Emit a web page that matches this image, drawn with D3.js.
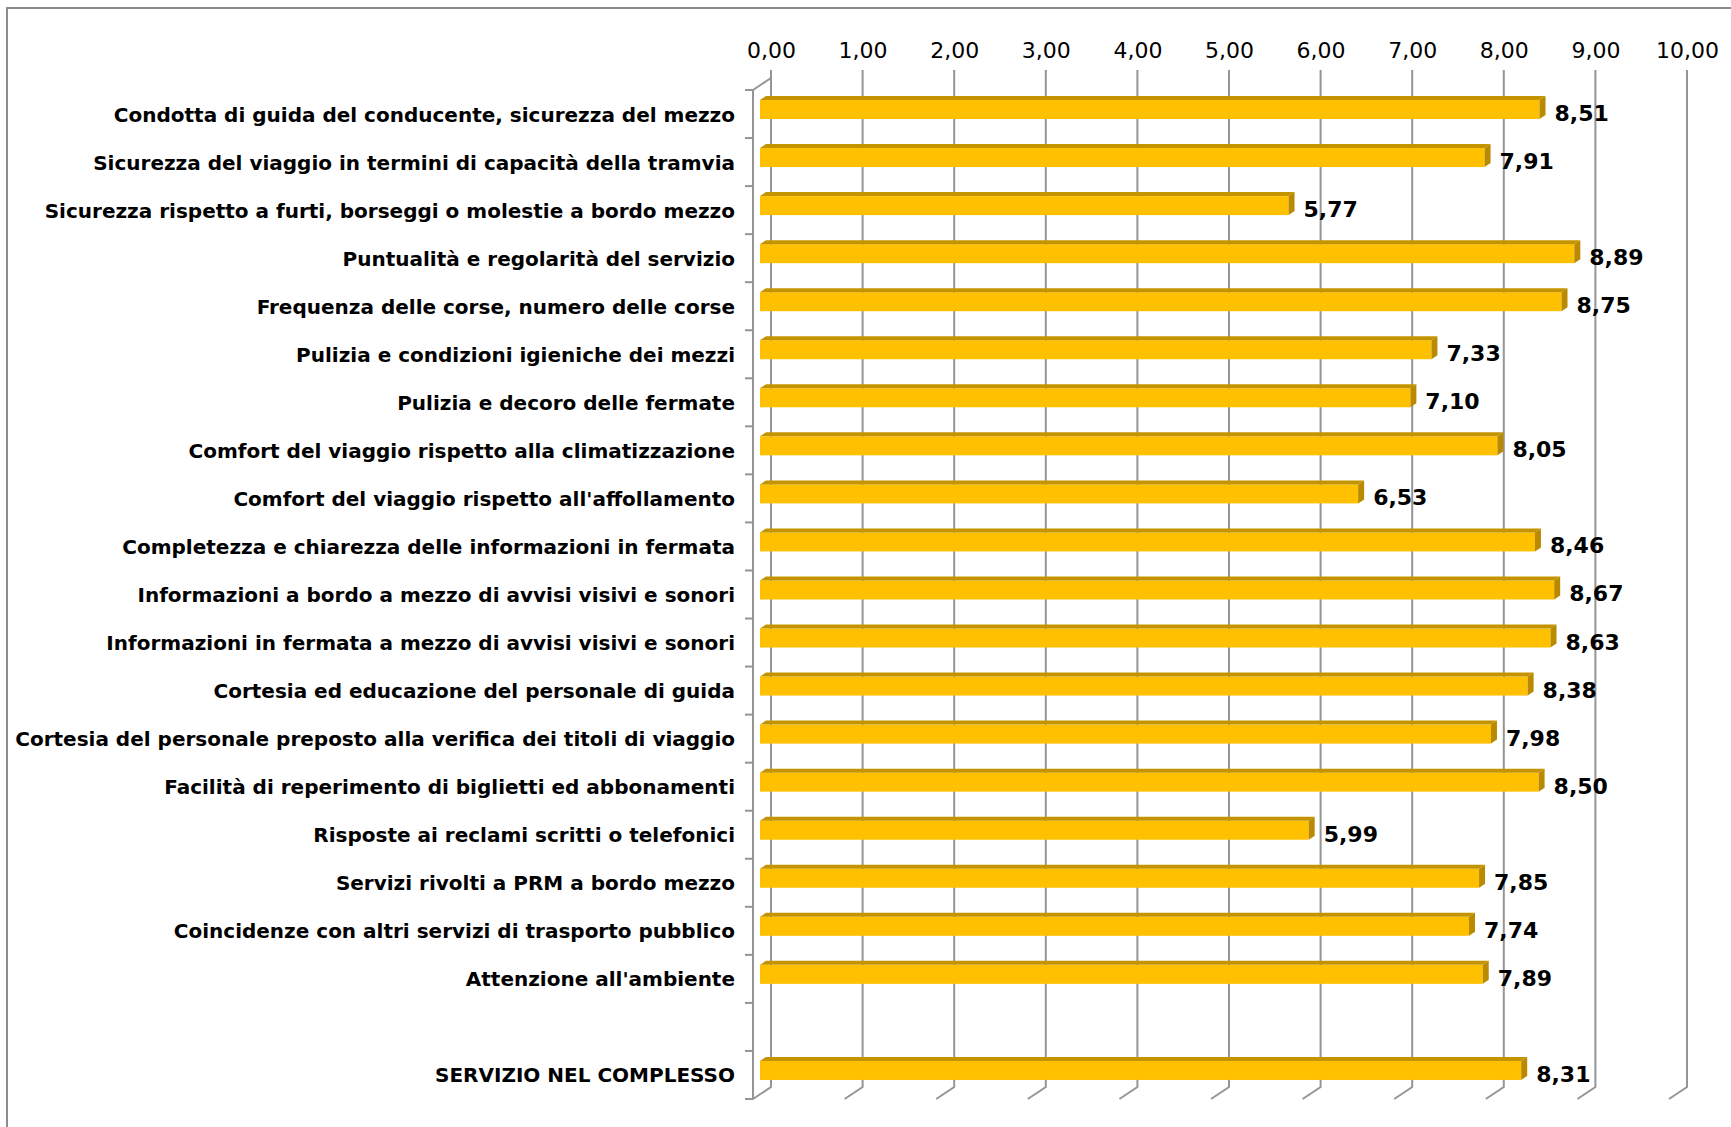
<!DOCTYPE html>
<html>
<head>
<meta charset="utf-8">
<script src="https://cdn.jsdelivr.net/npm/d3@7"></script>
<style>
  body { margin: 0; background: #fff; }
  svg { display: block; }
</style>
</head>
<body>
<script>
const categories = [
  "Condotta di guida del conducente, sicurezza del mezzo",
  "Sicurezza del viaggio in termini di capacità della tramvia",
  "Sicurezza rispetto a furti, borseggi o molestie a bordo mezzo",
  "Puntualità e regolarità del servizio",
  "Frequenza delle corse, numero delle corse",
  "Pulizia e condizioni igieniche dei mezzi",
  "Pulizia e decoro delle fermate",
  "Comfort del viaggio rispetto alla climatizzazione",
  "Comfort del viaggio rispetto all'affollamento",
  "Completezza e chiarezza delle informazioni in fermata",
  "Informazioni a bordo a mezzo di avvisi visivi e sonori",
  "Informazioni in fermata a mezzo di avvisi visivi e sonori",
  "Cortesia ed educazione del personale di guida",
  "Cortesia del personale preposto alla verifica dei titoli di viaggio",
  "Facilità di reperimento di biglietti ed abbonamenti",
  "Risposte ai reclami scritti o telefonici",
  "Servizi rivolti a PRM a bordo mezzo",
  "Coincidenze con altri servizi di trasporto pubblico",
  "Attenzione all'ambiente",
  "",
  "SERVIZIO NEL COMPLESSO"
];
const values = [8.51, 7.91, 5.77, 8.89, 8.75, 7.33, 7.10, 8.05, 6.53, 8.46,
  8.67, 8.63, 8.38, 7.98, 8.50, 5.99, 7.85, 7.74, 7.89, null, 8.31];
const ticks = [0, 1, 2, 3, 4, 5, 6, 7, 8, 9, 10];

const width = 1731, height = 1127;
const depthX = 18, depthY = -12;      // offset of back wall vs front plane
const barShift = -11, barDX = 6, barDY = -4;

const it = d3.formatLocale({decimal: ",", thousands: ".", grouping: [3], currency: ["", " €"]});
const fmt = it.format(".2f");

const data = categories.map((c, i) => ({name: c, value: values[i], i: i}));

const svg = d3.select('body').append('svg')
    .attr('width', width)
    .attr('height', height)
    .style('font-family', '"DejaVu Sans", Verdana, sans-serif');

// outer frame
svg.append('rect')
    .attr('x', 7).attr('y', 8)
    .attr('width', width).attr('height', height)
    .attr('fill', 'none')
    .attr('stroke', '#8c8c8c')
    .attr('stroke-width', 2);

// x on the back wall
const x = d3.scaleLinear()
    .domain([0, 10])
    .range([771, 1687]);

// categories on the front plane
const y = d3.scaleBand()
    .domain(data.map(d => d.i))
    .range([90, 1099]);

const frontBottom = y.range()[1], frontTop = y.range()[0];
const backBottom = frontBottom + depthY, backTop = frontTop + depthY;
const gridColor = '#959595';

// gridlines on back wall + floor
const grid = svg.append('g');
grid.selectAll('path.grid')
    .data(ticks)
    .join('path')
    .attr('class', 'grid')
    .attr('d', t => `M${x(t)},${backTop - 8}V${backBottom}L${x(t) - depthX},${frontBottom}`)
    .attr('fill', 'none')
    .attr('stroke', gridColor)
    .attr('stroke-width', 2);

// left side wall
grid.append('path')
    .attr('d', `M${x(0)},${backTop}L${x(0) - depthX},${frontTop}V${frontBottom + 0.5}`)
    .attr('fill', 'none')
    .attr('stroke', gridColor)
    .attr('stroke-width', 2);

// category ticks on the left wall
grid.selectAll('line.ytick')
    .data(d3.range(categories.length + 1))
    .join('line')
    .attr('class', 'ytick')
    .attr('x1', x(0) - depthX - 8)
    .attr('x2', x(0) - depthX)
    .attr('y1', k => frontTop + k * y.step())
    .attr('y2', k => frontTop + k * y.step())
    .attr('stroke', gridColor)
    .attr('stroke-width', 2);

// top axis labels
const axis = svg.append('g')
    .attr('transform', `translate(0,${backTop})`)
    .call(d3.axisTop(x).tickValues(ticks).tickFormat(fmt).tickSize(0).tickPadding(20));
axis.select('.domain').remove();
axis.selectAll('text')
    .attr('font-family', '"DejaVu Sans", Verdana, sans-serif')
    .attr('font-size', 22)
    .attr('fill', '#000');

// bars
const bars = svg.append('g')
    .selectAll('g.bar')
    .data(data.filter(d => d.value != null))
    .join('g')
    .attr('class', 'bar');

const x0 = x(0) + barShift;
bars.append('rect')
    .attr('x', x0)
    .attr('y', d => y(d.i) + 10)
    .attr('width', d => x(d.value) - x(0))
    .attr('height', 19)
    .attr('fill', '#FFC000');

bars.append('path')
    .attr('d', d => {
        const x1 = x(d.value) + barShift, yt = y(d.i) + 10;
        return `M${x0},${yt}L${x1},${yt}L${x1 + barDX},${yt + barDY}L${x0 + barDX},${yt + barDY}Z`;
    })
    .attr('fill', '#C49400');

bars.append('path')
    .attr('d', d => {
        const x1 = x(d.value) + barShift, yt = y(d.i) + 10, yb = yt + 19;
        return `M${x1},${yt}L${x1 + barDX},${yt + barDY}L${x1 + barDX},${yb + barDY}L${x1},${yb}Z`;
    })
    .attr('fill', '#B98A00');

bars.append('text')
    .attr('x', d => x(d.value) + 4)
    .attr('y', d => y(d.i) + 31)
    .attr('font-size', 22)
    .attr('font-weight', 'bold')
    .text(d => fmt(d.value));

// category labels
svg.append('g')
    .selectAll('text')
    .data(data)
    .join('text')
    .attr('x', 735)
    .attr('y', d => y(d.i) + 31.5)
    .attr('text-anchor', 'end')
    .attr('font-size', 20)
    .attr('font-weight', 'bold')
    .text(d => d.name);
</script>
</body>
</html>
